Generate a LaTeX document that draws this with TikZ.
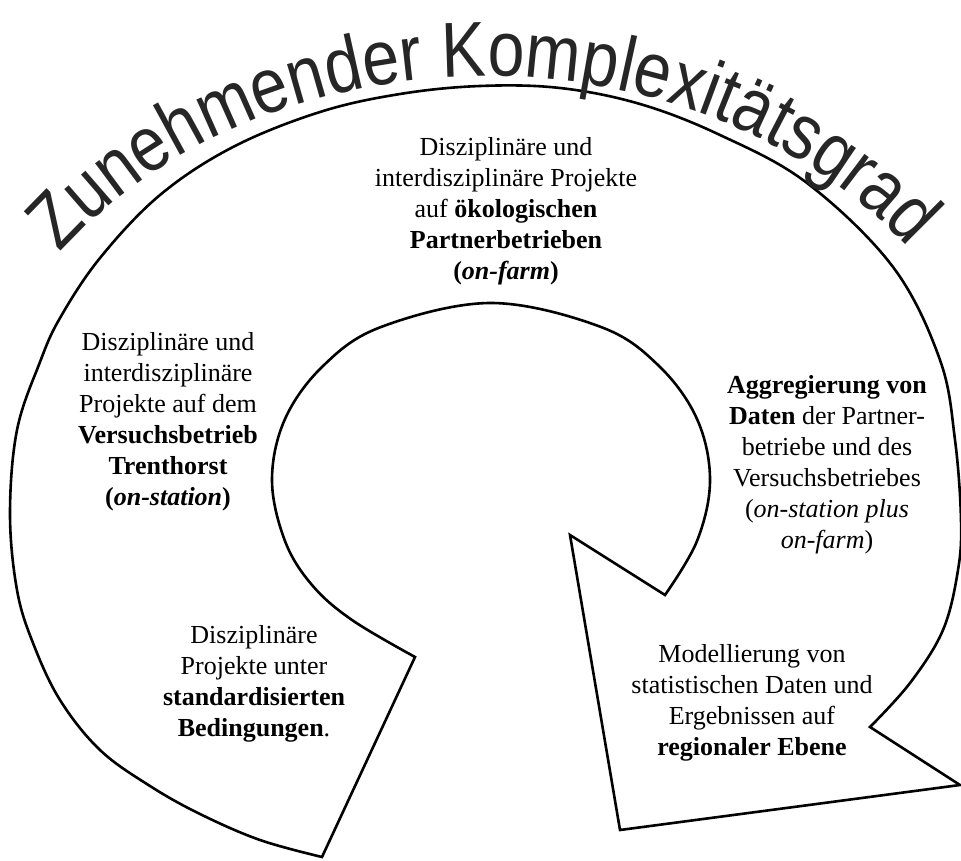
\documentclass[tikz,border=0pt]{standalone}
\usepackage{fontspec}
\setmainfont{Liberation Serif}
\newfontfamily\titlefont[FakeStretch=0.85]{Liberation Sans}
\usetikzlibrary{decorations.text}

\begin{document}
\begin{tikzpicture}[x=1pt, y=1pt,
	label/.style={align=center, inner sep=0pt, font=\fontsize{26}{31}\selectfont}]
	\useasboundingbox (0,0) rectangle (961,-861);

	% spiral band: tail at the bottom left, arrow head at the bottom right
	\draw[line width=2.6pt, line join=miter]
		(322,-857) -- plot[smooth, tension=0.6] coordinates {(415,-657) (352,-620) (312,-585) (285,-541)
			(272,-480) (285,-419) (323,-366) (381,-327) (491,-303) (601,-327) (659,-366) (697,-419)
			(710,-480) (697,-541) (665,-595)}
		-- (570,-535) -- (620,-830) -- (960,-785) -- (870,-727)
		-- plot[smooth, tension=0.6] coordinates {(870,-727) (910,-683) (943,-630) (958,-570) (961,-520)
			(955,-440) (940,-360) (893,-267) (807,-183) (720,-135) (640,-104) (560,-88) (480,-86)
			(400,-94) (320,-112) (233,-147) (160,-195) (100,-258) (60,-318) (40,-362) (17,-430)
			(10,-514) (17,-590) (33,-643) (60,-700) (100,-750) (150,-786) (200,-814) (260,-840) (322,-857)}
		-- cycle;

	% title along an elliptic arc over the band
	\path[decorate, decoration={text along path, text align={fit to path}, text color=black!85,
		text={|\titlefont\fontsize{78}{78}\selectfont|Zunehmender Komplexitätsgrad}}]
		(60.2,-253.1) arc[start angle=143.7, end angle=37.1, x radius=529pt, y radius=434pt];

	\node[label] (onfarm) at (506,-211) {Disziplinäre und\\ interdisziplinäre Projekte\\
		auf \textbf{ökologischen}\\ \textbf{Partnerbetrieben}\\ \textbf{(\textit{on-farm})}};
	\node[label] (onstation) at (168,-422) {Disziplinäre und\\ interdisziplinäre\\ Projekte auf dem\\
		\textbf{Versuchsbetrieb}\\ \textbf{Trenthorst}\\ \textbf{(\textit{on-station})}};
	\node[label] (standard) at (254,-684) {Disziplinäre\\ Projekte unter\\
		\textbf{standardisierten}\\ \textbf{Bedingungen}.};
	\node[label] (aggregation) at (827,-465) {\textbf{Aggregierung von}\\ \textbf{Daten} der Partner-\\
		betriebe und des\\ Versuchsbetriebes\\ (\textit{on-station plus}\\ \textit{on-farm})};
	\node[label] (regional) at (752,-703) {Modellierung von\\ statistischen Daten und\\
		Ergebnissen auf\\ \textbf{regionaler Ebene}};
\end{tikzpicture}
\end{document}
